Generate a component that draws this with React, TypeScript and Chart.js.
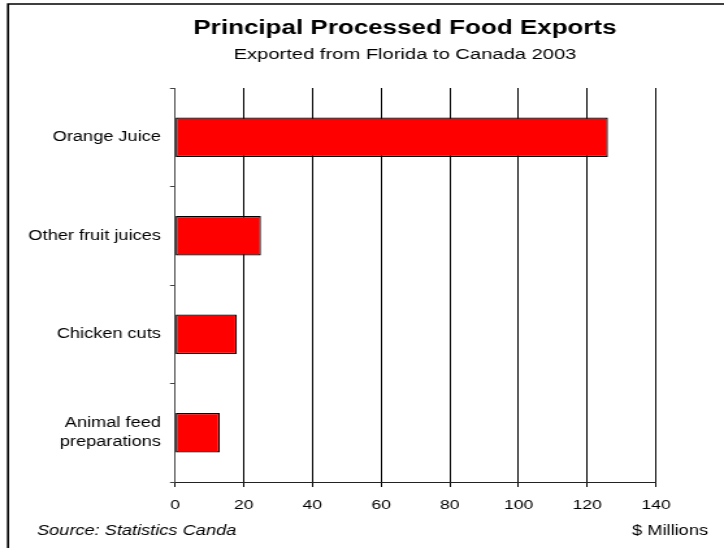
import React, { useEffect, useRef } from "react";
import { Chart, registerables } from "chart.js";

Chart.register(...registerables);

// ---- data ----
const categories: (string | string[])[] = [
  "Orange Juice",
  "Other fruit juices",
  "Chicken cuts",
  ["Animal feed", "preparations"],
];
const exportValues: number[] = [126, 25, 18, 13];
const xMin = 0;
const xMax = 140;
const xStep = 20;

const titleText = "Principal Processed Food Exports";
const subtitleText = "Exported from Florida to Canada 2003";
const sourceText = "Source: Statistics Canda";
const unitText = "$ Millions";

// ---- layout (output pixels; the drawing is stretched horizontally) ----
const OUT_W = 724;
const OUT_H = 548;
const STRETCH = 1.3;
const W = Math.round(OUT_W / STRETCH);
const sx = (x: number) => (x * W) / OUT_W;

const FONT = "'Liberation Sans', Arial, Helvetica, sans-serif";

const decorPlugin = {
  id: "decor",
  afterDraw(chart: any) {
    const ctx = chart.ctx as CanvasRenderingContext2D;
    ctx.save();
    // frame (top and left edges)
    ctx.strokeStyle = "#000";
    ctx.lineWidth = 1.6;
    ctx.beginPath();
    ctx.moveTo(sx(8), OUT_H);
    ctx.lineTo(sx(8), 4);
    ctx.lineTo(W, 4);
    ctx.stroke();

    ctx.fillStyle = "#000";
    ctx.textBaseline = "middle";
    ctx.textAlign = "center";
    ctx.font = `bold 20px ${FONT}`;
    ctx.fillText(titleText, sx(405), 28);
    ctx.font = `15.5px ${FONT}`;
    ctx.fillText(subtitleText, sx(405), 55);

    ctx.textAlign = "left";
    ctx.font = `italic 14px ${FONT}`;
    ctx.fillText(sourceText, sx(37), 531);
    ctx.textAlign = "right";
    ctx.font = `14px ${FONT}`;
    ctx.fillText(unitText, sx(708), 531);
    ctx.restore();
  },
};

export default function App() {
  const ref = useRef<HTMLCanvasElement | null>(null);

  useEffect(() => {
    if (!ref.current) return;
    const chart = new Chart(ref.current, {
      type: "bar",
      data: {
        labels: categories as any,
        datasets: [
          {
            data: exportValues,
            backgroundColor: "#FF0000",
            borderColor: "#000",
            borderWidth: 1.3,
            borderSkipped: false,
            barPercentage: 0.4,
            categoryPercentage: 1,
          },
        ],
      },
      options: {
        indexAxis: "y",
        responsive: false,
        animation: false,
        layout: {
          padding: { left: 0, right: W - sx(656), top: 88, bottom: 0 },
        },
        plugins: {
          legend: { display: false },
          tooltip: { enabled: false },
          title: { display: false },
        },
        scales: {
          x: {
            type: "linear",
            min: xMin,
            max: xMax,
            ticks: {
              stepSize: xStep,
              color: "#000",
              font: { family: FONT, size: 13.5 },
              padding: 10,
            },
            grid: {
              color: "#000",
              lineWidth: 1,
              drawTicks: true,
              tickLength: 5,
              tickColor: "#000",
            },
            border: { display: true, color: "#222", width: 1 },
            afterFit: (s: any) => {
              s.height = 66;
            },
          },
          y: {
            type: "category",
            grid: {
              display: true,
              drawOnChartArea: false,
              drawTicks: true,
              tickLength: sx(5),
              tickColor: "#444",
              offset: true,
            },
            border: { display: true, color: "#444", width: 1 },
            ticks: {
              color: "#000",
              font: { family: FONT, size: 14, lineHeight: 1.35 },
              padding: 7,
            },
            afterFit: (s: any) => {
              s.width = sx(175);
            },
          },
        },
      },
      plugins: [decorPlugin],
    });
    return () => chart.destroy();
  }, []);

  return (
    <div style={{ position: "absolute", left: 0, top: 0, width: OUT_W, height: OUT_H, background: "#fff" }}>
      <canvas
        ref={ref}
        width={W}
        height={OUT_H}
        style={{ width: `${OUT_W}px`, height: `${OUT_H}px`, display: "block" }}
      />
    </div>
  );
}
